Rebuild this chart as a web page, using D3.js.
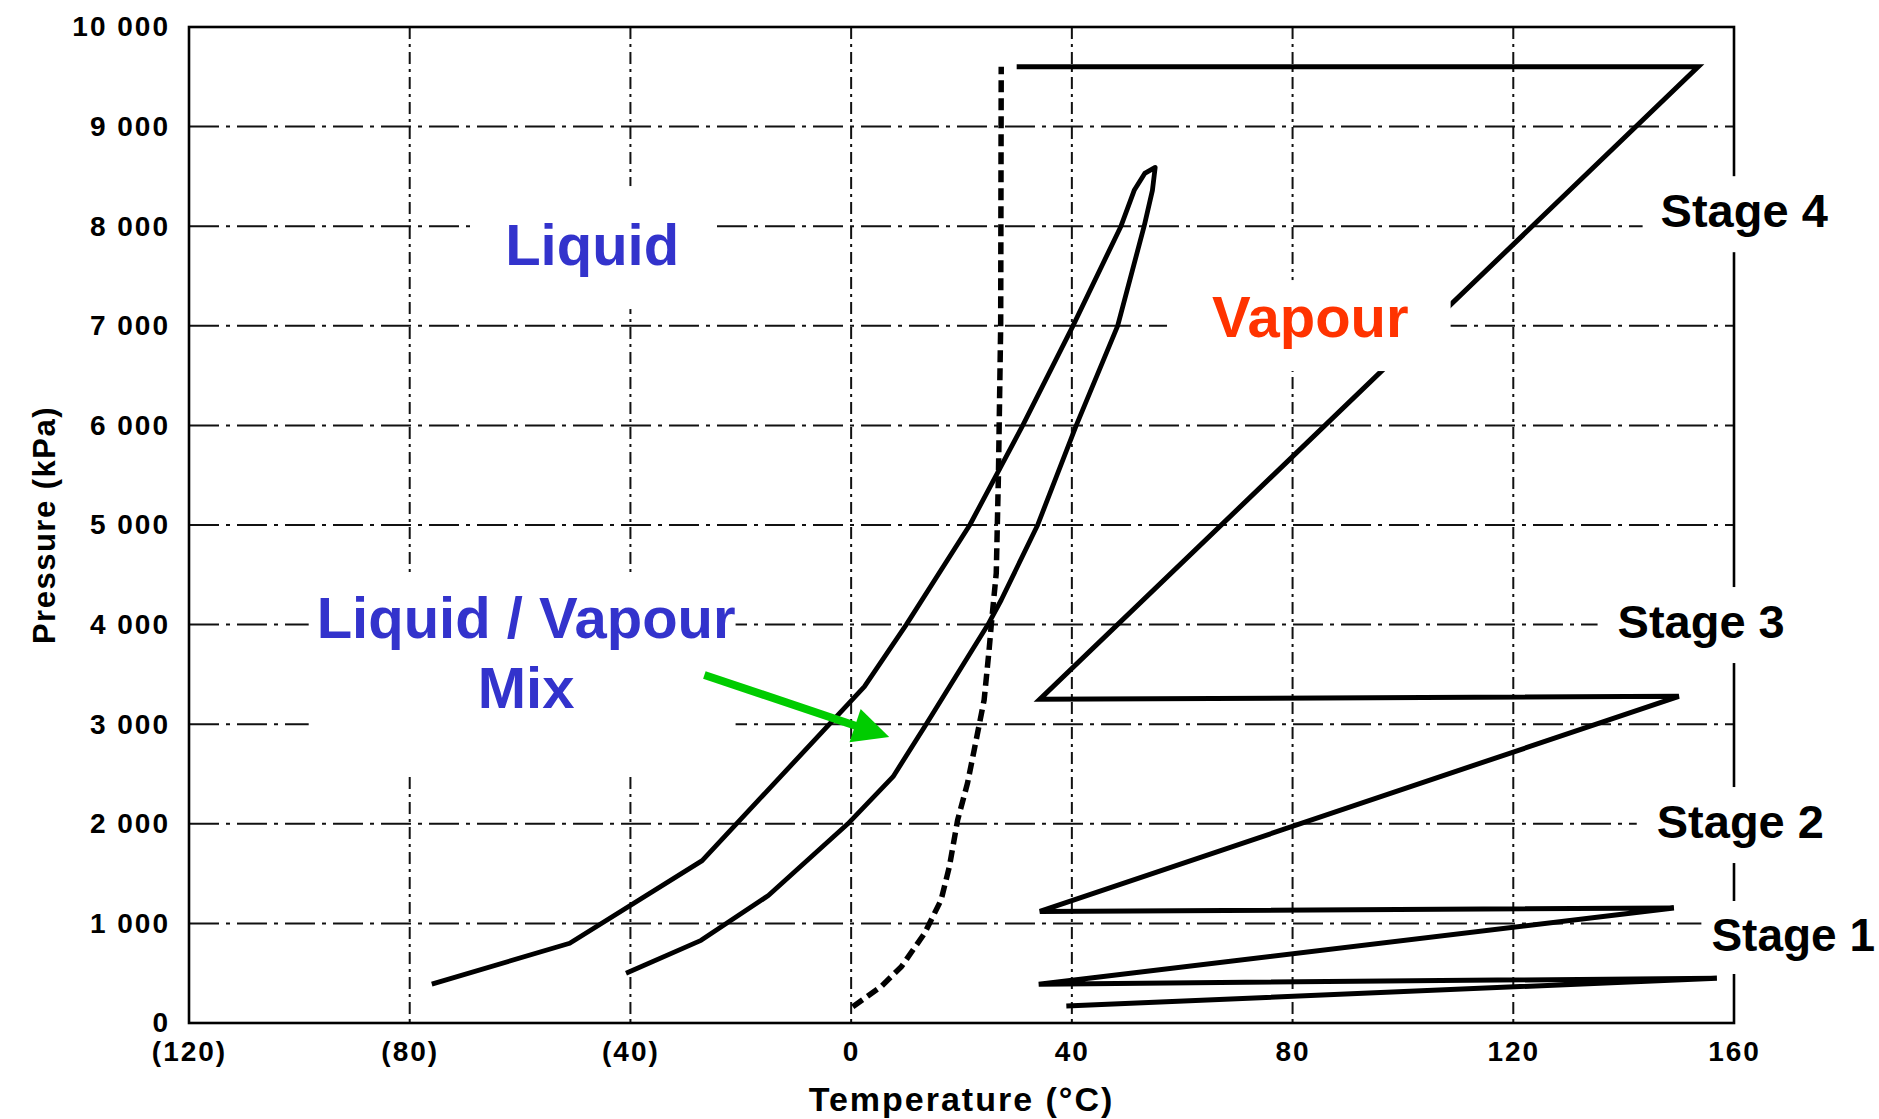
<!DOCTYPE html>
<html>
<head>
<meta charset="utf-8">
<script src="https://cdn.jsdelivr.net/npm/d3@7"></script>
<style>
body{margin:0;background:#fff;}
svg{display:block;font-family:"Liberation Sans",Arial,sans-serif;}
</style>
</head>
<body>
<svg id="chart"></svg>
<script>
var W = 1879, H = 1119;
var margin = {top: 27, right: 145, bottom: 96, left: 189};

// ticks
var tempTicks = [-120, -80, -40, 0, 40, 80, 120, 160];
var pressTicks = [0, 1000, 2000, 3000, 4000, 5000, 6000, 7000, 8000, 9000, 10000];

// phase envelope, left (bubble) side up to the top
var bubbleT = [-76, -51, -27, 2.4, 10, 21.5, 31.1, 40.2, 48.9, 51.3, 53.2, 55.1];
var bubbleP = [390, 800, 1630, 3377, 4000, 5000, 6000, 7000, 8000, 8360, 8530, 8590];
// right (dew) side, from the bottom up to the top
var dewT = [-40.8, -27.2, -15, -0.6, 7.6, 13.6, 24.8, 27.2, 33.8, 40.8, 48.3, 53.1, 54.6, 55.1];
var dewP = [500, 830, 1280, 2000, 2473, 3000, 4000, 4247, 5000, 6000, 7000, 8000, 8360, 8590];

// dashed curve
var hydT = [0.3, 5.4, 9.1, 13.3, 16.3, 17.8, 19.3, 21.1, 22.3, 24.1, 25, 25.4, 26.3, 26.7, 27.1, 27.2];
var hydP = [164, 364, 565, 900, 1235, 1569, 2038, 2410, 2741, 3243, 3745, 4000, 4518, 5520, 7000, 9600];

// compression stages zig-zag
var stageT = [39, 156.9, 34, 149.1, 34.2, 150, 34.2, 153.5, 30];
var stageP = [170, 450, 390, 1155, 1120, 3280, 3250, 9600, 9600];

// green arrow (tail, tip)
var arrowT = [-26.6, 6.9];
var arrowP = [3494, 2871];

var svg = d3.select("#chart").attr("width", W).attr("height", H);
svg.append("rect").attr("width", W).attr("height", H).attr("fill", "#fff");

var width = W - margin.left - margin.right,
    height = H - margin.top - margin.bottom;
var g = svg.append("g").attr("transform", "translate(" + margin.left + "," + margin.top + ")");

var x = d3.scaleLinear().domain([-120, 160]).range([0, width]);
var y = d3.scaleLinear().domain([0, 10000]).range([height, 0]);

// GRID
g.append("g").selectAll("line")
  .data(pressTicks.slice(1, -1))
  .enter().append("line")
  .attr("x1", 0).attr("x2", width)
  .attr("y1", function(d){ return y(d); }).attr("y2", function(d){ return y(d); })
  .attr("stroke", "#111").attr("stroke-width", 2)
  .attr("stroke-dasharray", "30,7,4,7");

g.append("g").selectAll("line")
  .data(tempTicks.slice(1, -1))
  .enter().append("line")
  .attr("y1", 0).attr("y2", height)
  .attr("x1", function(d){ return x(d); }).attr("x2", function(d){ return x(d); })
  .attr("stroke", "#111").attr("stroke-width", 2)
  .attr("stroke-dasharray", "12,5,3,5");

// AXES
var fmtP = d3.formatLocale({decimal: ".", thousands: " ", grouping: [3], currency: ["", ""]}).format(",");

var yAxis = d3.axisLeft(y).tickValues(pressTicks).tickSize(0).tickPadding(19).tickFormat(fmtP);
var xAxis = d3.axisBottom(x).tickValues(tempTicks).tickSize(0).tickPadding(18)
  .tickFormat(function(d){ return d < 0 ? "(" + (-d) + ")" : d; });

function styleAxis(a) {
  a.select(".domain").remove();
  a.selectAll(".tick text")
    .attr("fill", "#000")
    .style("font-family", "'Liberation Sans', Arial, sans-serif")
    .style("font-size", "28px")
    .style("font-weight", "bold")
    .style("letter-spacing", "2px");
}
g.append("g").call(yAxis).call(styleAxis);
g.append("g").attr("transform", "translate(0," + height + ")").call(xAxis).call(styleAxis);

// frame
g.append("rect").attr("width", width).attr("height", height)
  .attr("fill", "none").attr("stroke", "#000").attr("stroke-width", 2.6);

// CURVES
var line = d3.line()
  .x(function(d){ return x(d[0]); })
  .y(function(d){ return y(d[1]); });

var envelope = d3.zip(bubbleT, bubbleP).concat(d3.zip(dewT, dewP).reverse().slice(1));
g.append("path").datum(envelope)
  .attr("d", line).attr("fill", "none")
  .attr("stroke", "#000").attr("stroke-width", 4.8).attr("stroke-linejoin", "round");

g.append("path").datum(d3.zip(hydT, hydP))
  .attr("d", line).attr("fill", "none")
  .attr("stroke", "#000").attr("stroke-width", 5.5)
  .attr("stroke-dasharray", "12,6");

g.append("path").datum(d3.zip(stageT, stageP))
  .attr("d", line).attr("fill", "none")
  .attr("stroke", "#000").attr("stroke-width", 5);

// LABELS (white boxes behind, like pasted text boxes)
function addLabel(lines, t, p, size, color, anchor, pad) {
  var lg = g.append("g");
  var txt = lg.append("text")
    .attr("x", x(t)).attr("y", y(p))
    .attr("text-anchor", anchor)
    .attr("font-size", size).attr("font-weight", "bold")
    .attr("fill", color);
  lines.forEach(function(s, i){
    txt.append("tspan").attr("x", x(t)).attr("dy", i ? 70 : 0).text(s);
  });
  var b = txt.node().getBBox();
  lg.insert("rect", "text")
    .attr("x", b.x - pad[0]).attr("y", b.y - pad[1])
    .attr("width", b.width + pad[0] + pad[2])
    .attr("height", b.height + pad[1] + pad[3])
    .attr("fill", "#fff");
}

addLabel(["Liquid"], -62.7, 7610, 58, "#3333cc", "start", [31, 26, 33, 32]);
addLabel(["Vapour"], 65.4, 6887, 58, "#ff3300", "start", [45, 4, 42, 22]);
addLabel(["Liquid / Vapour", "Mix"], -58.9, 3865, 58, "#3333cc", "middle", [8, 10, 0, 56]);
addLabel(["Stage 4"], 146.7, 7990, 47, "#000", "start", [18, 8, 60, 15]);
addLabel(["Stage 3"], 138.9, 3865, 47, "#000", "start", [20, 8, 60, 15]);
addLabel(["Stage 2"], 146, 1857, 47, "#000", "start", [20, 8, 60, 15]);
addLabel(["Stage 1"], 155.9, 723, 46, "#000", "start", [10, 8, 60, 13]);

// ARROW
var ax0 = x(arrowT[0]), ay0 = y(arrowP[0]), ax1 = x(arrowT[1]), ay1 = y(arrowP[1]);
var ang = Math.atan2(ay1 - ay0, ax1 - ax0);
var headLen = 36, headHalf = 17.5;
var bx = ax1 - headLen * Math.cos(ang), by = ay1 - headLen * Math.sin(ang);
g.append("line")
  .attr("x1", ax0).attr("y1", ay0).attr("x2", bx + 2 * Math.cos(ang)).attr("y2", by + 2 * Math.sin(ang))
  .attr("stroke", "#00cc00").attr("stroke-width", 8);
g.append("path")
  .attr("d", "M" + ax1 + "," + ay1 +
    "L" + (bx - headHalf * Math.sin(ang)) + "," + (by + headHalf * Math.cos(ang)) +
    "L" + (bx + headHalf * Math.sin(ang)) + "," + (by - headHalf * Math.cos(ang)) + "Z")
  .attr("fill", "#00cc00");

// AXIS TITLES
svg.append("text")
  .attr("x", margin.left + width / 2).attr("y", 1111)
  .attr("text-anchor", "middle")
  .attr("font-size", 34).attr("font-weight", "bold")
  .style("letter-spacing", "2px")
  .text("Temperature (\u00b0C)");

svg.append("text")
  .attr("transform", "translate(55," + (margin.top + height / 2) + ") rotate(-90)")
  .attr("text-anchor", "middle")
  .attr("font-size", 31).attr("font-weight", "bold")
  .style("letter-spacing", "1.5px")
  .text("Pressure (kPa)");
</script>
</body>
</html>
